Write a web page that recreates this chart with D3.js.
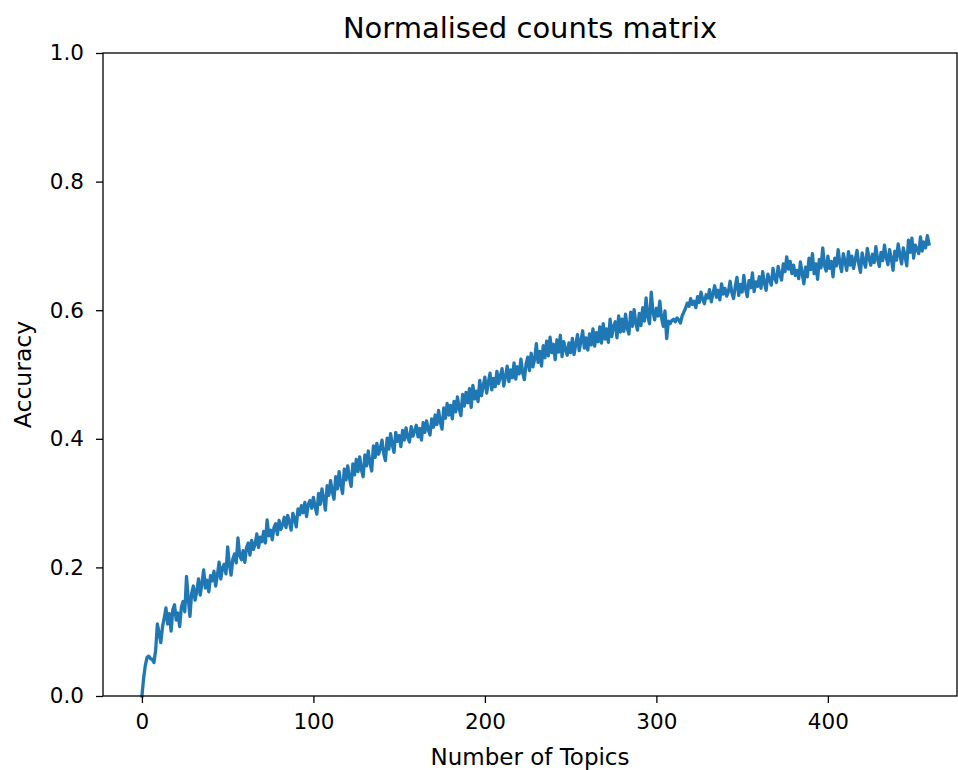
<!DOCTYPE html>
<html>
<head>
<meta charset="utf-8">
<script src="https://cdn.jsdelivr.net/npm/d3@7"></script>
<style>
  body { margin: 0; background: #fff; }
  text { font-family: "DejaVu Sans", sans-serif; fill: #000; }
</style>
</head>
<body>
<svg id="canvas"></svg>
<script>
// chart text
var title = 'Normalised counts matrix';
var xLabel = 'Number of Topics';
var yLabel = 'Accuracy';

// tick values
var xTicks = [0, 100, 200, 300, 400];
var yTicks = [0.0, 0.2, 0.4, 0.6, 0.8, 1.0];

// accuracy for each number of topics (index = number of topics)
var accuracy = [
    0.000, 0.028, 0.048, 0.060, 0.062, 0.058, 0.057, 0.052, 0.071, 0.112,
    0.098, 0.083, 0.108, 0.121, 0.137, 0.112, 0.128, 0.101, 0.134, 0.142,
    0.118, 0.129, 0.108, 0.138, 0.147, 0.131, 0.186, 0.152, 0.124, 0.160,
    0.171, 0.149, 0.163, 0.182, 0.157, 0.175, 0.196, 0.168, 0.180, 0.162,
    0.187, 0.179, 0.194, 0.171, 0.188, 0.208, 0.182, 0.199, 0.205, 0.190,
    0.232, 0.204, 0.188, 0.213, 0.221, 0.207, 0.246, 0.219, 0.212, 0.226,
    0.208, 0.231, 0.238, 0.219, 0.242, 0.228, 0.236, 0.252, 0.231, 0.247,
    0.240, 0.256, 0.238, 0.274, 0.249, 0.258, 0.243, 0.262, 0.268, 0.251,
    0.273, 0.259, 0.266, 0.278, 0.262, 0.281, 0.271, 0.258, 0.284, 0.276,
    0.263, 0.291, 0.282, 0.296, 0.285, 0.301, 0.279, 0.298, 0.304, 0.292,
    0.309, 0.294, 0.283, 0.315, 0.298, 0.322, 0.306, 0.289, 0.327, 0.312,
    0.335, 0.318, 0.306, 0.341, 0.322, 0.349, 0.328, 0.315, 0.353, 0.336,
    0.358, 0.339, 0.326, 0.361, 0.344, 0.368, 0.349, 0.372, 0.352, 0.341,
    0.375, 0.358, 0.381, 0.362, 0.350, 0.389, 0.371, 0.393, 0.376, 0.385,
    0.398, 0.377, 0.366, 0.401, 0.384, 0.408, 0.391, 0.379, 0.410, 0.396,
    0.405, 0.388, 0.413, 0.398, 0.417, 0.402, 0.395, 0.419, 0.404, 0.412,
    0.421, 0.403, 0.416, 0.398, 0.425, 0.410, 0.428, 0.414, 0.406, 0.431,
    0.418, 0.437, 0.422, 0.444, 0.426, 0.415, 0.448, 0.432, 0.455, 0.437,
    0.452, 0.431, 0.458, 0.442, 0.465, 0.447, 0.436, 0.469, 0.451, 0.472,
    0.456, 0.478, 0.449, 0.483, 0.462, 0.474, 0.458, 0.491, 0.467, 0.482,
    0.496, 0.471, 0.488, 0.502, 0.476, 0.494, 0.481, 0.505, 0.486, 0.498,
    0.509, 0.482, 0.497, 0.513, 0.489, 0.507, 0.495, 0.518, 0.493, 0.512,
    0.501, 0.524, 0.503, 0.492, 0.516, 0.527, 0.506, 0.533, 0.512, 0.524,
    0.548, 0.519, 0.536, 0.513, 0.545, 0.526, 0.552, 0.529, 0.558, 0.534,
    0.547, 0.523, 0.554, 0.535, 0.561, 0.528, 0.551, 0.539, 0.530, 0.549,
    0.534, 0.556, 0.531, 0.547, 0.562, 0.537, 0.552, 0.568, 0.541, 0.557,
    0.538, 0.563, 0.546, 0.571, 0.544, 0.565, 0.551, 0.574, 0.549, 0.579,
    0.555, 0.571, 0.550, 0.586, 0.559, 0.575, 0.582, 0.557, 0.591, 0.566,
    0.586, 0.567, 0.594, 0.572, 0.563, 0.597, 0.575, 0.601, 0.580, 0.569,
    0.595, 0.576, 0.604, 0.583, 0.619, 0.590, 0.579, 0.628, 0.598, 0.585,
    0.603, 0.591, 0.614, 0.588, 0.575, 0.599, 0.556, 0.583, 0.579, 0.584,
    0.586, 0.582, 0.588, 0.585, 0.580, 0.591, 0.597, 0.603, 0.611, 0.606,
    0.618, 0.609, 0.614, 0.604, 0.621, 0.612, 0.628, 0.617, 0.610, 0.624,
    0.619, 0.632, 0.613, 0.626, 0.638, 0.620, 0.631, 0.616, 0.641, 0.625,
    0.634, 0.622, 0.629, 0.645, 0.627, 0.618, 0.637, 0.651, 0.623, 0.640,
    0.628, 0.654, 0.633, 0.621, 0.646, 0.635, 0.658, 0.629, 0.644, 0.637,
    0.652, 0.634, 0.660, 0.642, 0.631, 0.656, 0.648, 0.639, 0.665, 0.650,
    0.643, 0.668, 0.655, 0.647, 0.672, 0.660, 0.683, 0.664, 0.676, 0.657,
    0.670, 0.654, 0.662, 0.649, 0.675, 0.658, 0.641, 0.667, 0.652, 0.681,
    0.663, 0.688, 0.657, 0.672, 0.648, 0.679, 0.666, 0.697, 0.670, 0.661,
    0.684, 0.665, 0.676, 0.652, 0.681, 0.669, 0.694, 0.673, 0.660, 0.688,
    0.676, 0.662, 0.691, 0.670, 0.684, 0.665, 0.679, 0.693, 0.672, 0.659,
    0.689, 0.675, 0.667, 0.696, 0.681, 0.670, 0.687, 0.674, 0.699, 0.679,
    0.668, 0.690, 0.677, 0.701, 0.683, 0.671, 0.694, 0.680, 0.662, 0.692,
    0.678, 0.703, 0.686, 0.672, 0.697, 0.684, 0.669, 0.709, 0.690, 0.712,
    0.681, 0.701, 0.695, 0.688, 0.714, 0.692, 0.706, 0.697, 0.716, 0.703
];

var width = 958, height = 770;
var margin = { top: 53, right: 1, bottom: 74, left: 103 };

var svg = d3.select('#canvas')
    .attr('width', width)
    .attr('height', height);

// x domain with matplotlib-like padding around the data
var xScale = d3.scaleLinear()
    .domain([-22.7, 475.3])
    .range([margin.left, width - margin.right]);

var yScale = d3.scaleLinear()
    .domain([0, 1])
    .range([height - margin.bottom, margin.top]);

// the line
var line = d3.line()
    .x(function (d, i) { return xScale(i); })
    .y(function (d) { return yScale(d); });

svg.append('path')
    .datum(accuracy)
    .attr('d', line)
    .attr('fill', 'none')
    .attr('stroke', '#1f77b4')
    .attr('stroke-width', 3.3)
    .attr('stroke-linejoin', 'round')
    .attr('stroke-linecap', 'square');

// axes
var xAxis = d3.axisBottom(xScale)
    .tickValues(xTicks)
    .tickSize(7)
    .tickPadding(11)
    .tickFormat(d3.format('d'));

var yAxis = d3.axisLeft(yScale)
    .tickValues(yTicks)
    .tickSize(7)
    .tickPadding(12)
    .tickFormat(d3.format('.1f'));

var gx = svg.append('g')
    .attr('transform', 'translate(0,' + (height - margin.bottom) + ')')
    .call(xAxis);

var gy = svg.append('g')
    .attr('transform', 'translate(' + margin.left + ',0)')
    .call(yAxis);

[gx, gy].forEach(function (g) {
    g.select('.domain').remove();
    g.selectAll('.tick line').attr('stroke', '#000').attr('stroke-width', 1.3);
    g.selectAll('.tick text')
        .attr('font-size', 21.5)
        .attr('font-family', 'DejaVu Sans, sans-serif')
        .attr('fill', '#000');
});

// frame around plot area
svg.append('rect')
    .attr('x', margin.left)
    .attr('y', margin.top)
    .attr('width', width - margin.right - margin.left)
    .attr('height', height - margin.bottom - margin.top)
    .attr('fill', 'none')
    .attr('stroke', '#000')
    .attr('stroke-width', 1.3);

// title and labels
svg.append('text')
    .attr('x', (margin.left + width - margin.right) / 2)
    .attr('y', 38)
    .attr('text-anchor', 'middle')
    .attr('font-size', 29)
    .text(title);

svg.append('text')
    .attr('x', (margin.left + width - margin.right) / 2)
    .attr('y', 765)
    .attr('text-anchor', 'middle')
    .attr('font-size', 23)
    .text(xLabel);

svg.append('text')
    .attr('transform', 'translate(31,' + ((margin.top + height - margin.bottom) / 2) + ') rotate(-90)')
    .attr('text-anchor', 'middle')
    .attr('font-size', 23.5)
    .text(yLabel);
</script>
</body>
</html>
